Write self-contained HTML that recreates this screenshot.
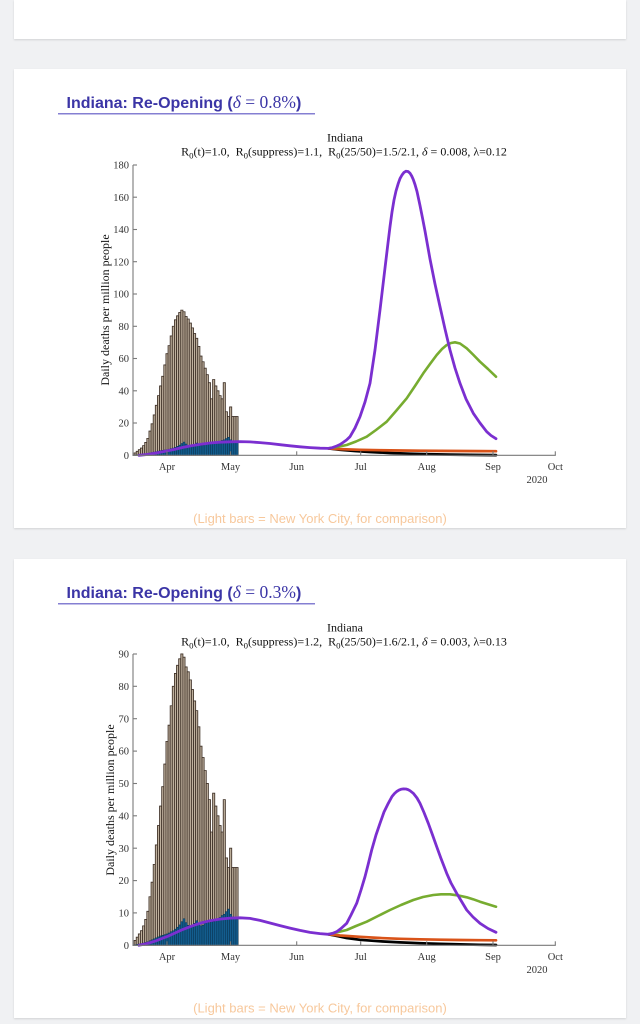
<!DOCTYPE html>
<html>
<head>
<meta charset="utf-8">
<style>
  html, body { margin:0; padding:0; }
  body { width:640px; height:1024px; background:#f0f1f3; position:relative; overflow:hidden; }
  .card { position:absolute; left:14px; width:612px; background:#ffffff; box-shadow:0 1px 2px rgba(0,0,0,0.13); }
  svg { position:absolute; left:0; top:0; }
  .tk { font-family:"Liberation Serif", serif; font-size:10.5px; fill:#333; }
  .tl { font-family:"Liberation Serif", serif; font-size:12px; fill:#111; }
</style>
</head>
<body>
<div class="card" style="top:0; height:39px;"></div>
<div class="card" style="top:69px; height:459px;"></div>
<div class="card" style="top:559px; height:459px;"></div>

<svg width="640" height="1024" viewBox="0 0 640 1024" xmlns="http://www.w3.org/2000/svg">
  <defs>
    <g id="nyc" fill="#bfb19e" stroke="#3f3127" stroke-width="0.85">
      <rect vector-effect="non-scaling-stroke" x="-15.5" y="0" width="1" height="1.5"/>
      <rect vector-effect="non-scaling-stroke" x="-14.5" y="0" width="1" height="2.5"/>
      <rect vector-effect="non-scaling-stroke" x="-13.5" y="0" width="1" height="3.5"/>
      <rect vector-effect="non-scaling-stroke" x="-12.5" y="0" width="1" height="4.5"/>
      <rect vector-effect="non-scaling-stroke" x="-11.5" y="0" width="1" height="6"/>
      <rect vector-effect="non-scaling-stroke" x="-10.5" y="0" width="1" height="8"/>
      <rect vector-effect="non-scaling-stroke" x="-9.5" y="0" width="1" height="10.5"/>
      <rect vector-effect="non-scaling-stroke" x="-8.5" y="0" width="1" height="15"/>
      <rect vector-effect="non-scaling-stroke" x="-7.5" y="0" width="1" height="19.5"/>
      <rect vector-effect="non-scaling-stroke" x="-6.5" y="0" width="1" height="25"/>
      <rect vector-effect="non-scaling-stroke" x="-5.5" y="0" width="1" height="31"/>
      <rect vector-effect="non-scaling-stroke" x="-4.5" y="0" width="1" height="37"/>
      <rect vector-effect="non-scaling-stroke" x="-3.5" y="0" width="1" height="43"/>
      <rect vector-effect="non-scaling-stroke" x="-2.5" y="0" width="1" height="49"/>
      <rect vector-effect="non-scaling-stroke" x="-1.5" y="0" width="1" height="56"/>
      <rect vector-effect="non-scaling-stroke" x="-0.5" y="0" width="1" height="63"/>
      <rect vector-effect="non-scaling-stroke" x="0.5" y="0" width="1" height="68"/>
      <rect vector-effect="non-scaling-stroke" x="1.5" y="0" width="1" height="74"/>
      <rect vector-effect="non-scaling-stroke" x="2.5" y="0" width="1" height="80"/>
      <rect vector-effect="non-scaling-stroke" x="3.5" y="0" width="1" height="84"/>
      <rect vector-effect="non-scaling-stroke" x="4.5" y="0" width="1" height="86.5"/>
      <rect vector-effect="non-scaling-stroke" x="5.5" y="0" width="1" height="88.5"/>
      <rect vector-effect="non-scaling-stroke" x="6.5" y="0" width="1" height="90"/>
      <rect vector-effect="non-scaling-stroke" x="7.5" y="0" width="1" height="89"/>
      <rect vector-effect="non-scaling-stroke" x="8.5" y="0" width="1" height="86"/>
      <rect vector-effect="non-scaling-stroke" x="9.5" y="0" width="1" height="84.5"/>
      <rect vector-effect="non-scaling-stroke" x="10.5" y="0" width="1" height="82"/>
      <rect vector-effect="non-scaling-stroke" x="11.5" y="0" width="1" height="79"/>
      <rect vector-effect="non-scaling-stroke" x="12.5" y="0" width="1" height="75.5"/>
      <rect vector-effect="non-scaling-stroke" x="13.5" y="0" width="1" height="72.5"/>
      <rect vector-effect="non-scaling-stroke" x="14.5" y="0" width="1" height="67.5"/>
      <rect vector-effect="non-scaling-stroke" x="15.5" y="0" width="1" height="61.5"/>
      <rect vector-effect="non-scaling-stroke" x="16.5" y="0" width="1" height="58"/>
      <rect vector-effect="non-scaling-stroke" x="17.5" y="0" width="1" height="54"/>
      <rect vector-effect="non-scaling-stroke" x="18.5" y="0" width="1" height="50"/>
      <rect vector-effect="non-scaling-stroke" x="19.5" y="0" width="1" height="45"/>
      <rect vector-effect="non-scaling-stroke" x="20.5" y="0" width="1" height="35"/>
      <rect vector-effect="non-scaling-stroke" x="21.5" y="0" width="1" height="47"/>
      <rect vector-effect="non-scaling-stroke" x="22.5" y="0" width="1" height="43"/>
      <rect vector-effect="non-scaling-stroke" x="23.5" y="0" width="1" height="40"/>
      <rect vector-effect="non-scaling-stroke" x="24.5" y="0" width="1" height="37"/>
      <rect vector-effect="non-scaling-stroke" x="25.5" y="0" width="1" height="35"/>
      <rect vector-effect="non-scaling-stroke" x="26.5" y="0" width="1" height="45"/>
      <rect vector-effect="non-scaling-stroke" x="27.5" y="0" width="1" height="27"/>
      <rect vector-effect="non-scaling-stroke" x="28.5" y="0" width="1" height="24"/>
      <rect vector-effect="non-scaling-stroke" x="29.5" y="0" width="1" height="30"/>
      <rect vector-effect="non-scaling-stroke" x="30.5" y="0" width="1" height="24"/>
      <rect vector-effect="non-scaling-stroke" x="31.5" y="0" width="1" height="24"/>
      <rect vector-effect="non-scaling-stroke" x="32.5" y="0" width="1" height="24"/>
    </g>
    <g id="ind" fill="#135d8e" stroke="#0a3350" stroke-width="0.5">
      <rect vector-effect="non-scaling-stroke" x="-15.5" y="0" width="1" height="0.2"/>
      <rect vector-effect="non-scaling-stroke" x="-14.5" y="0" width="1" height="0.3"/>
      <rect vector-effect="non-scaling-stroke" x="-13.5" y="0" width="1" height="0.4"/>
      <rect vector-effect="non-scaling-stroke" x="-12.5" y="0" width="1" height="0.5"/>
      <rect vector-effect="non-scaling-stroke" x="-11.5" y="0" width="1" height="0.7"/>
      <rect vector-effect="non-scaling-stroke" x="-10.5" y="0" width="1" height="0.9"/>
      <rect vector-effect="non-scaling-stroke" x="-9.5" y="0" width="1" height="1.1"/>
      <rect vector-effect="non-scaling-stroke" x="-8.5" y="0" width="1" height="1.4"/>
      <rect vector-effect="non-scaling-stroke" x="-7.5" y="0" width="1" height="1.7"/>
      <rect vector-effect="non-scaling-stroke" x="-6.5" y="0" width="1" height="2.0"/>
      <rect vector-effect="non-scaling-stroke" x="-5.5" y="0" width="1" height="2.3"/>
      <rect vector-effect="non-scaling-stroke" x="-4.5" y="0" width="1" height="2.6"/>
      <rect vector-effect="non-scaling-stroke" x="-3.5" y="0" width="1" height="2.9"/>
      <rect vector-effect="non-scaling-stroke" x="-2.5" y="0" width="1" height="3.1"/>
      <rect vector-effect="non-scaling-stroke" x="-1.5" y="0" width="1" height="3.3"/>
      <rect vector-effect="non-scaling-stroke" x="-0.5" y="0" width="1" height="3.5"/>
      <rect vector-effect="non-scaling-stroke" x="0.5" y="0" width="1" height="3.8"/>
      <rect vector-effect="non-scaling-stroke" x="1.5" y="0" width="1" height="4.2"/>
      <rect vector-effect="non-scaling-stroke" x="2.5" y="0" width="1" height="4.5"/>
      <rect vector-effect="non-scaling-stroke" x="3.5" y="0" width="1" height="5.0"/>
      <rect vector-effect="non-scaling-stroke" x="4.5" y="0" width="1" height="5.6"/>
      <rect vector-effect="non-scaling-stroke" x="5.5" y="0" width="1" height="6.3"/>
      <rect vector-effect="non-scaling-stroke" x="6.5" y="0" width="1" height="7.3"/>
      <rect vector-effect="non-scaling-stroke" x="7.5" y="0" width="1" height="8.2"/>
      <rect vector-effect="non-scaling-stroke" x="8.5" y="0" width="1" height="7.0"/>
      <rect vector-effect="non-scaling-stroke" x="9.5" y="0" width="1" height="6.2"/>
      <rect vector-effect="non-scaling-stroke" x="10.5" y="0" width="1" height="5.8"/>
      <rect vector-effect="non-scaling-stroke" x="11.5" y="0" width="1" height="6.2"/>
      <rect vector-effect="non-scaling-stroke" x="12.5" y="0" width="1" height="6.8"/>
      <rect vector-effect="non-scaling-stroke" x="13.5" y="0" width="1" height="7.6"/>
      <rect vector-effect="non-scaling-stroke" x="14.5" y="0" width="1" height="6.6"/>
      <rect vector-effect="non-scaling-stroke" x="15.5" y="0" width="1" height="6.0"/>
      <rect vector-effect="non-scaling-stroke" x="16.5" y="0" width="1" height="6.2"/>
      <rect vector-effect="non-scaling-stroke" x="17.5" y="0" width="1" height="6.8"/>
      <rect vector-effect="non-scaling-stroke" x="18.5" y="0" width="1" height="7.2"/>
      <rect vector-effect="non-scaling-stroke" x="19.5" y="0" width="1" height="7.0"/>
      <rect vector-effect="non-scaling-stroke" x="20.5" y="0" width="1" height="7.8"/>
      <rect vector-effect="non-scaling-stroke" x="21.5" y="0" width="1" height="7.3"/>
      <rect vector-effect="non-scaling-stroke" x="22.5" y="0" width="1" height="7.6"/>
      <rect vector-effect="non-scaling-stroke" x="23.5" y="0" width="1" height="8.2"/>
      <rect vector-effect="non-scaling-stroke" x="24.5" y="0" width="1" height="8.6"/>
      <rect vector-effect="non-scaling-stroke" x="25.5" y="0" width="1" height="9.2"/>
      <rect vector-effect="non-scaling-stroke" x="26.5" y="0" width="1" height="9.6"/>
      <rect vector-effect="non-scaling-stroke" x="27.5" y="0" width="1" height="10.4"/>
      <rect vector-effect="non-scaling-stroke" x="28.5" y="0" width="1" height="11.2"/>
      <rect vector-effect="non-scaling-stroke" x="29.5" y="0" width="1" height="9.6"/>
      <rect vector-effect="non-scaling-stroke" x="30.5" y="0" width="1" height="8.8"/>
      <rect vector-effect="non-scaling-stroke" x="31.5" y="0" width="1" height="8.3"/>
      <rect vector-effect="non-scaling-stroke" x="32.5" y="0" width="1" height="8.0"/>
    </g>
  </defs>

  <!-- ================= CARD 1 ================= -->
  <text x="66.5" y="107.8" font-family="Liberation Sans, sans-serif" font-weight="bold" font-size="16" fill="#3b35a6">Indiana: Re-Opening (<tspan font-family="Liberation Serif, serif" font-weight="normal" font-size="17.5"><tspan font-style="italic">δ</tspan> = 0.8%</tspan>)</text>
  <line x1="58" y1="113.8" x2="315" y2="113.8" stroke="#5d55c4" stroke-width="1.2"/>

  <text class="tl" x="345" y="141.5" text-anchor="middle">Indiana</text>
  <text class="tl" x="344" y="155.5" text-anchor="middle" font-size="12.4" style="white-space:pre">R<tspan font-size="8.8" dy="3">0</tspan><tspan dy="-3">(t)=1.0,  R</tspan><tspan font-size="8.8" dy="3">0</tspan><tspan dy="-3">(suppress)=1.1,  R</tspan><tspan font-size="8.8" dy="3">0</tspan><tspan dy="-3">(25/50)=1.5/2.1, </tspan><tspan font-style="italic">δ</tspan> = 0.008, λ=0.12</text>

  <g transform="translate(167,455.3) scale(2.122,-1.613)"><use href="#nyc"/><use href="#ind"/></g>

  <g fill="none" stroke-linejoin="round" stroke-linecap="round">
    <polyline stroke="#000" stroke-width="2.7" points="328.3,448.4 340,449.8 355,451 370,452 390,453 410,453.7 430,454.2 450,454.6 470,454.9 496,455.1"/>
    <polyline stroke="#d95319" stroke-width="2.7" points="328.3,448.4 340,449.1 360,449.8 380,450.2 400,450.5 420,450.7 440,450.9 460,451 480,451.1 496,451.2"/>
    <polyline stroke="#77ac30" stroke-width="2.6" points="328.3,448.4 337,447 346.7,445 356,441.5 366.7,436.7 376,430 386.7,421.7 396,411 406.7,398.3 415,386 423.3,373.3 430,364 436.7,355 442,349 446.7,345 451,343 455,342.3 460,343.5 466.7,348.3 473,354.5 480,361.7 488,369 496,376.7"/>
    <polyline stroke="#7b2fd0" stroke-width="2.8" points="139,455.3 145,454.7 150,454.0 156,453.0 162,451.9 167,450.9 175,449.2 183,447.4 192,445.6 201,444.2 210,443.0 220,442.2 230,441.8 240,441.6 250,441.9 260,442.6 270,443.5 280,444.7 290,445.8 300,446.8 310,447.6 320,448.2 328.3,448.4 332.5,447.6 336.7,446 340,444.5 343,442.5 346.5,440 350,436.7 355,428 360,416.7 365,402 370,383.3 375,350 380,310 385,268 388,243 390,226.7 392,212 394,200 396,191 398.3,183.3 400,178.6 402,175 404,172.4 406,171.2 408,171.5 410,173.2 411.7,176 413.3,179.6 415,184.5 417,191.5 420,205.5 422.5,218 425,231 427.5,245 430,259 435,284 440,306.7 445,329 450,350 455,368 460,383.3 466,399 473.3,413.3 480,423 486.7,431.7 491,435.5 496,438.7"/>
  </g>

  <!-- axes chart 1 -->
  <g stroke="#7a7a7a" stroke-width="1.1" fill="none">
    <line x1="133" y1="165" x2="133" y2="455.8"/>
    <line x1="132.5" y1="455.3" x2="555.8" y2="455.3"/>
    <line x1="133" y1="455.3" x2="137" y2="455.3"/>
    <line x1="133" y1="423.0" x2="137" y2="423.0"/>
    <line x1="133" y1="390.8" x2="137" y2="390.8"/>
    <line x1="133" y1="358.5" x2="137" y2="358.5"/>
    <line x1="133" y1="326.3" x2="137" y2="326.3"/>
    <line x1="133" y1="294.0" x2="137" y2="294.0"/>
    <line x1="133" y1="261.7" x2="137" y2="261.7"/>
    <line x1="133" y1="229.5" x2="137" y2="229.5"/>
    <line x1="133" y1="197.2" x2="137" y2="197.2"/>
    <line x1="133" y1="165.0" x2="137" y2="165.0"/>
    <line x1="167" y1="455.3" x2="167" y2="451.3"/>
    <line x1="230.5" y1="455.3" x2="230.5" y2="451.3"/>
    <line x1="296.7" y1="455.3" x2="296.7" y2="451.3"/>
    <line x1="360.7" y1="455.3" x2="360.7" y2="451.3"/>
    <line x1="426.7" y1="455.3" x2="426.7" y2="451.3"/>
    <line x1="493" y1="455.3" x2="493" y2="451.3"/>
    <line x1="555.3" y1="455.3" x2="555.3" y2="451.3"/>
  </g>
  <g class="tk" text-anchor="end">
    <text x="129" y="458.9">0</text>
    <text x="129" y="426.6">20</text>
    <text x="129" y="394.4">40</text>
    <text x="129" y="362.1">60</text>
    <text x="129" y="329.9">80</text>
    <text x="129" y="297.6">100</text>
    <text x="129" y="265.3">120</text>
    <text x="129" y="233.1">140</text>
    <text x="129" y="200.8">160</text>
    <text x="129" y="168.6">180</text>
  </g>
  <g class="tk" text-anchor="middle">
    <text x="167" y="470">Apr</text>
    <text x="230.5" y="470">May</text>
    <text x="296.7" y="470">Jun</text>
    <text x="360.7" y="470">Jul</text>
    <text x="426.7" y="470">Aug</text>
    <text x="493" y="470">Sep</text>
    <text x="555.3" y="470">Oct</text>
    <text x="537" y="483">2020</text>
  </g>
  <text class="tl" font-size="11.2" transform="translate(109,310) rotate(-90)" text-anchor="middle">Daily deaths per million people</text>

  <text x="320" y="522.8" text-anchor="middle" font-family="Liberation Sans, sans-serif" font-size="13" fill="#f7c89c">(Light bars = New York City, for comparison)</text>

  <!-- ================= CARD 2 ================= -->
  <text x="66.5" y="597.8" font-family="Liberation Sans, sans-serif" font-weight="bold" font-size="16" fill="#3b35a6">Indiana: Re-Opening (<tspan font-family="Liberation Serif, serif" font-weight="normal" font-size="17.5"><tspan font-style="italic">δ</tspan> = 0.3%</tspan>)</text>
  <line x1="58" y1="603.8" x2="315" y2="603.8" stroke="#5d55c4" stroke-width="1.2"/>

  <text class="tl" x="345" y="631.5" text-anchor="middle">Indiana</text>
  <text class="tl" x="344" y="645.5" text-anchor="middle" font-size="12.4" style="white-space:pre">R<tspan font-size="8.8" dy="3">0</tspan><tspan dy="-3">(t)=1.0,  R</tspan><tspan font-size="8.8" dy="3">0</tspan><tspan dy="-3">(suppress)=1.2,  R</tspan><tspan font-size="8.8" dy="3">0</tspan><tspan dy="-3">(25/50)=1.6/2.1, </tspan><tspan font-style="italic">δ</tspan> = 0.003, λ=0.13</text>

  <g transform="translate(167,945.3) scale(2.122,-3.237)"><use href="#nyc"/><use href="#ind"/></g>

  <g fill="none" stroke-linejoin="round" stroke-linecap="round">
    <polyline stroke="#000" stroke-width="2.7" points="328.3,934.3 338,936.2 346.7,938 360,939.8 380,941.3 400,942.4 420,943.2 440,943.9 460,944.4 480,944.8 496,945"/>
    <polyline stroke="#d95319" stroke-width="2.7" points="328.3,934.3 340,935.5 360,936.8 380,938 400,938.8 420,939.3 440,939.7 460,940 480,940.2 496,940.3"/>
    <polyline stroke="#77ac30" stroke-width="2.6" points="328.3,934.3 337,932.3 346.7,930 356,926 366.7,921.7 378,916 390,910 401,905 413.3,900 423,897 433.3,895 441,894.3 450,894.3 458,895.4 466.7,897.3 473,899.2 480,901.7 488,904.2 496,906.7"/>
    <polyline stroke="#7b2fd0" stroke-width="2.8" points="139,945.3 145,944.0 150,942.7 156,940.8 162,938.5 167,936.6 175,933.0 183,929.4 192,925.9 201,923.0 210,920.7 220,919.1 230,918.1 240,917.8 250,918.4 260,920.4 270,923.0 280,925.6 290,928.1 300,930.4 310,932.4 320,933.6 328.3,934.3 332.5,933.4 336.7,931.7 341,928.5 346.7,923.3 351,915 356.7,903.3 361,890 365,876.7 368,865 371.7,850 376,835 380,823.3 384,812 388.3,803.3 392,796.5 394.5,793.5 396.7,791.5 399,790.1 401,789.3 403.5,788.9 406,789 408,789.6 410,790.7 413.3,793.3 417,798 420,803.3 424,812.5 428.3,823.3 432,833.5 436.7,846.7 441,858.5 446.7,873.3 451,883 456.7,893.3 461,900.5 466.7,910 473,917 480,923.3 488,928.5 496,932.3"/>
  </g>

  <!-- axes chart 2 -->
  <g stroke="#7a7a7a" stroke-width="1.1" fill="none">
    <line x1="133" y1="654" x2="133" y2="945.8"/>
    <line x1="132.5" y1="945.3" x2="555.8" y2="945.3"/>
    <line x1="133" y1="945.3" x2="137" y2="945.3"/>
    <line x1="133" y1="912.9" x2="137" y2="912.9"/>
    <line x1="133" y1="880.6" x2="137" y2="880.6"/>
    <line x1="133" y1="848.2" x2="137" y2="848.2"/>
    <line x1="133" y1="815.8" x2="137" y2="815.8"/>
    <line x1="133" y1="783.5" x2="137" y2="783.5"/>
    <line x1="133" y1="751.1" x2="137" y2="751.1"/>
    <line x1="133" y1="718.7" x2="137" y2="718.7"/>
    <line x1="133" y1="686.3" x2="137" y2="686.3"/>
    <line x1="133" y1="654.0" x2="137" y2="654.0"/>
    <line x1="167" y1="945.3" x2="167" y2="941.3"/>
    <line x1="230.5" y1="945.3" x2="230.5" y2="941.3"/>
    <line x1="296.7" y1="945.3" x2="296.7" y2="941.3"/>
    <line x1="360.7" y1="945.3" x2="360.7" y2="941.3"/>
    <line x1="426.7" y1="945.3" x2="426.7" y2="941.3"/>
    <line x1="493" y1="945.3" x2="493" y2="941.3"/>
    <line x1="555.3" y1="945.3" x2="555.3" y2="941.3"/>
  </g>
  <g class="tk" text-anchor="end">
    <text x="129" y="948.9">0</text>
    <text x="129" y="916.5">10</text>
    <text x="129" y="884.2">20</text>
    <text x="129" y="851.8">30</text>
    <text x="129" y="819.4">40</text>
    <text x="129" y="787.1">50</text>
    <text x="129" y="754.7">60</text>
    <text x="129" y="722.3">70</text>
    <text x="129" y="689.9">80</text>
    <text x="129" y="657.6">90</text>
  </g>
  <g class="tk" text-anchor="middle">
    <text x="167" y="960">Apr</text>
    <text x="230.5" y="960">May</text>
    <text x="296.7" y="960">Jun</text>
    <text x="360.7" y="960">Jul</text>
    <text x="426.7" y="960">Aug</text>
    <text x="493" y="960">Sep</text>
    <text x="555.3" y="960">Oct</text>
    <text x="537" y="973">2020</text>
  </g>
  <text class="tl" font-size="11.2" transform="translate(114,800) rotate(-90)" text-anchor="middle">Daily deaths per million people</text>

  <text x="320" y="1012.3" text-anchor="middle" font-family="Liberation Sans, sans-serif" font-size="13" fill="#f7c89c">(Light bars = New York City, for comparison)</text>
</svg>
</body>
</html>
